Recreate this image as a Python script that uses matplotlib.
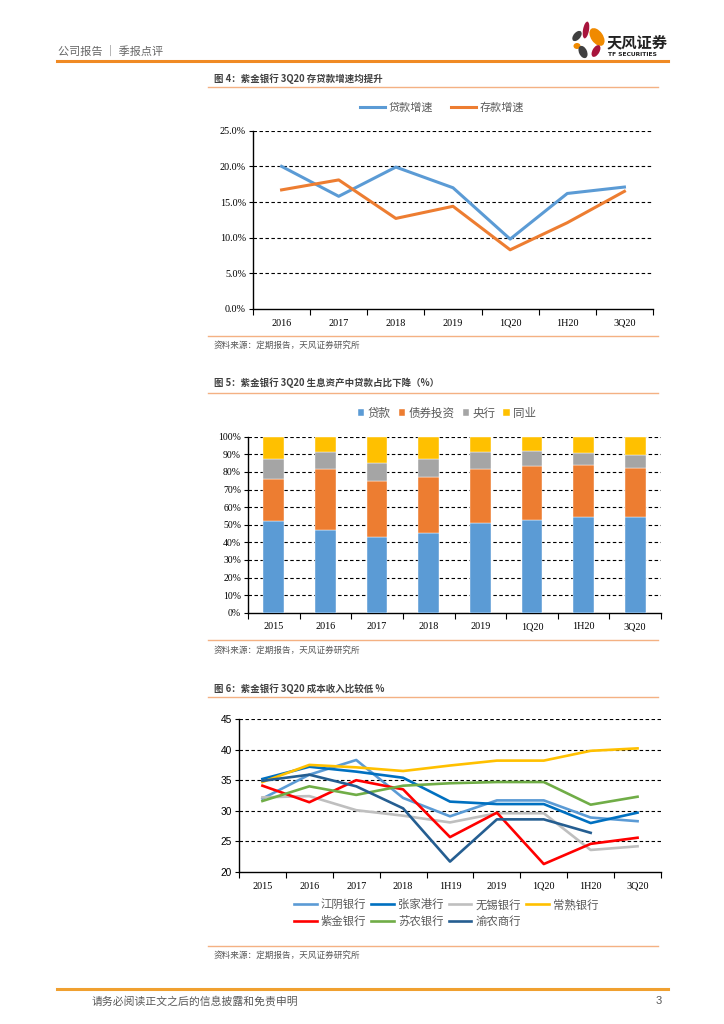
import matplotlib
matplotlib.use('Agg')
import matplotlib.pyplot as plt
from matplotlib.patches import Ellipse
from matplotlib.lines import Line2D
import numpy as np

plt.rcParams['font.family'] = ['Noto Sans CJK SC', 'DejaVu Sans']
plt.rcParams['lines.scale_dashes'] = False

# ---------------- data ----------------
c1_cats = ['2016', '2017', '2018', '2019', '1Q20', '1H20', '3Q20']
loan_growth = [20.0, 15.8, 19.9, 17.0, 9.8, 16.2, 17.1]
deposit_growth = [16.7, 18.1, 12.7, 14.4, 8.3, 12.1, 16.5]
c1_series = ['贷款增速', '存款增速']

c2_cats = ['2015', '2016', '2017', '2018', '2019', '1Q20', '1H20', '3Q20']
loans = [52.2, 47.2, 42.9, 45.2, 50.7, 52.4, 54.6, 54.1]
bonds = [23.7, 34.2, 31.9, 32.0, 30.7, 30.7, 29.3, 28.3]
central = [11.4, 9.9, 10.0, 10.1, 9.9, 8.7, 6.6, 7.2]
interbank = [12.7, 8.7, 15.2, 12.7, 8.7, 8.2, 9.5, 10.4]
c2_series = ['贷款', '债券投资', '央行', '同业']

c3_cats = ['2015', '2016', '2017', '2018', '1H19', '2019', '1Q20', '1H20', '3Q20']
jiangyin = [32.0, 35.9, 38.3, 32.1, 29.1, 31.7, 31.7, 28.9, 28.3]
zhangjiagang = [35.2, 37.2, 36.4, 35.4, 31.5, 31.1, 31.1, 28.0, 29.7]
wuxi = [32.2, 32.4, 30.1, 29.2, 28.1, 29.6, 29.6, 23.6, 24.2]
changshu = [34.7, 37.5, 37.1, 36.5, 37.4, 38.2, 38.2, 39.8, 40.2]
zijin = [34.1, 31.4, 35.0, 33.5, 25.7, 29.7, 21.3, 24.6, 25.6]
sunong = [31.6, 34.0, 32.6, 34.1, 34.5, 34.7, 34.7, 31.0, 32.3]
yunong = [34.9, 35.9, 34.0, 30.4, 21.7, 28.6, 28.6, 26.4, np.nan]
c3_names = ['江阴银行', '张家港行', '无锡银行', '常熟银行', '紫金银行', '苏农银行', '渝农商行']

# ---------------- helpers ----------------
W, H = 724, 1024
fig = plt.figure(figsize=(W / 100, H / 100), dpi=100)


def rect(x0, y0, x1, y1):
    return [x0 / W, 1 - y1 / H, (x1 - x0) / W, (y1 - y0) / H]


def fx(x):
    return x / W


def fy(y):
    return 1 - y / H


def hline(y, x0, x1, color, lw):
    fig.add_artist(Line2D([fx(x0), fx(x1)], [fy(y), fy(y)], color=color, lw=lw,
                          transform=fig.transFigure))


def ftext(x, y, s, **kw):
    kw.setdefault('va', 'center')
    fig.text(fx(x), fy(y), s, **kw)


GRAY = '#595959'
ORANGE_LINE = '#F4B183'
SERIF = 'Liberation Serif'
grid_kw = dict(color='black', lw=0.8, linestyle=(0, (2.5, 1.8)))


def cat_axis(ax, n, labels, fontfamily=SERIF, fs=7.3):
    ax.set_xlim(-0.5, n - 0.5)
    ax.set_xticks(np.arange(-0.5, n, 1.0))
    ax.set_xticklabels([])
    ax.set_xticks(np.arange(n), minor=True)
    ax.set_xticklabels(labels, minor=True, fontfamily=fontfamily, fontsize=fs, color='black')
    ax.tick_params(axis='x', which='major', length=4, width=0.8, direction='out')
    ax.tick_params(axis='x', which='minor', length=0, pad=7)
    for s in ['top', 'right']:
        ax.spines[s].set_visible(False)
    for s in ['left', 'bottom']:
        ax.spines[s].set_linewidth(1.0)
        ax.spines[s].set_color('black')
    ax.tick_params(axis='y', length=3, width=0.8, direction='out', pad=2)


# ---------------- page header ----------------
ftext(58, 51, '公司报告 ｜ 季报点评', fontsize=8, color='#666666')
hline(61, 57, 668, '#F08A24', 2.2)

# logo
axl = fig.add_axes(rect(565, 15, 610, 62))
axl.set_xlim(565, 610)
axl.set_ylim(62, 15)
axl.axis('off')
petals = [
    ((586, 30), 6, 17, 10, '#A8143C'),
    ((597, 37), 12, 20, -35, '#F08A00'),
    ((577, 36), 7, 12, 40, '#404040'),
    ((577, 46), 7, 6, 0, '#F08A00'),
    ((583, 52), 8, 13, -25, '#404040'),
    ((596, 51), 7, 13, 30, '#A8143C'),
]
for (cx, cy), w, h, ang, col in petals:
    axl.add_patch(Ellipse((cx, cy), w, h, angle=ang, color=col, lw=0))
ftext(607, 42, '天风证券', fontsize=11, fontweight='bold', color='#222222')
ftext(608, 54, 'TF SECURITIES', fontsize=4.3, fontweight='bold', color='#222222',
      fontfamily='DejaVu Sans')

# ---------------- figure 4 ----------------
ftext(214, 79, '图 4：紫金银行 3Q20 存贷款增速均提升', fontsize=6.8, fontweight='bold', color='#404040')
hline(87, 208, 658, ORANGE_LINE, 1.0)

ax1 = fig.add_axes(rect(253, 130.7, 653, 309))
x1 = np.arange(len(c1_cats))
l1, = ax1.plot(x1, loan_growth, color='#5B9BD5', lw=2.2, label=c1_series[0])
l2, = ax1.plot(x1, deposit_growth, color='#ED7D31', lw=2.2, label=c1_series[1])
ax1.set_ylim(0, 25)
ax1.set_yticks(np.arange(0, 26, 5))
ax1.set_yticklabels(['%.1f%%' % v for v in np.arange(0, 26, 5)], fontfamily=SERIF, fontsize=7.3)
for v in np.arange(5, 26, 5):
    ax1.axhline(v, **grid_kw, zorder=0)
cat_axis(ax1, len(c1_cats), c1_cats)
fig.legend(handles=[l1, l2], loc='center', bbox_to_anchor=(fx(442), fy(108)), ncol=2,
           frameon=False, fontsize=8, labelcolor=GRAY, handlelength=2.3,
           handletextpad=0.3, columnspacing=1.6)

hline(336, 208, 658, ORANGE_LINE, 1.0)
ftext(214, 345.5, '资料来源：定期报告，天风证券研究所', fontsize=6.2, color=GRAY)

# ---------------- figure 5 ----------------
ftext(214, 383, '图 5：紫金银行 3Q20 生息资产中贷款占比下降（%）', fontsize=6.8, fontweight='bold', color='#404040')
hline(393, 208, 658, ORANGE_LINE, 1.0)

ax2 = fig.add_axes(rect(248, 436.7, 661, 612.7))
x2 = np.arange(len(c2_cats))
bw = 0.4
cols2 = ['#5B9BD5', '#ED7D31', '#A5A5A5', '#FFC000']
bottom = np.zeros(len(c2_cats))
handles2 = []
for vals, col, name in zip([loans, bonds, central, interbank], cols2, c2_series):
    b = ax2.bar(x2, vals, bw, bottom=bottom, color=col, edgecolor='white', linewidth=0.3,
                label=name, zorder=3)
    bottom += np.array(vals)
    handles2.append(b)
ax2.set_ylim(0, 100)
ax2.set_yticks(np.arange(0, 101, 10))
ax2.set_yticklabels(['%d%%' % v for v in np.arange(0, 101, 10)], fontfamily=SERIF, fontsize=7.0)
for v in np.arange(10, 101, 10):
    ax2.axhline(v, **grid_kw, zorder=1)
cat_axis(ax2, len(c2_cats), c2_cats)
fig.legend(handles=handles2, loc='center', bbox_to_anchor=(fx(447), fy(413)), ncol=4,
           frameon=False, fontsize=8.3, labelcolor=GRAY, handlelength=0.55, handleheight=0.55,
           handletextpad=0.3, columnspacing=0.7)

hline(640, 208, 658, ORANGE_LINE, 1.0)
ftext(214, 650, '资料来源：定期报告，天风证券研究所', fontsize=6.2, color=GRAY)

# ---------------- figure 6 ----------------
ftext(214, 689, '图 6：紫金银行 3Q20 成本收入比较低 %', fontsize=6.8, fontweight='bold', color='#404040')
hline(697, 208, 658, ORANGE_LINE, 1.0)

ax3 = fig.add_axes(rect(239, 719, 661, 872))
x3 = np.arange(len(c3_cats))
cols3 = ['#5B9BD5', '#0070C0', '#BFBFBF', '#FFC000', '#FF0000', '#70AD47', '#255E91']
series3 = [jiangyin, zhangjiagang, wuxi, changshu, zijin, sunong, yunong]
lines3 = []
for vals, col, name in zip(series3, cols3, c3_names):
    ln, = ax3.plot(x3, vals, color=col, lw=1.9, label=name, zorder=3)
    lines3.append(ln)
ax3.set_ylim(20, 45)
ax3.set_yticks(np.arange(20, 46, 5))
ax3.set_yticklabels([str(v) for v in np.arange(20, 46, 5)], fontfamily='Liberation Sans', fontsize=7.3)
for v in np.arange(25, 46, 5):
    ax3.axhline(v, **grid_kw, zorder=1)
cat_axis(ax3, len(c3_cats), c3_cats)
order = [0, 4, 1, 5, 2, 6, 3]
fig.legend(handles=[lines3[i] for i in order], loc='center', bbox_to_anchor=(fx(446), fy(913)),
           ncol=4, frameon=False, fontsize=8.2, labelcolor=GRAY, handlelength=2.0,
           handletextpad=0.35, columnspacing=0.45, labelspacing=0.5)

hline(946, 208, 658, ORANGE_LINE, 1.0)
ftext(214, 955, '资料来源：定期报告，天风证券研究所', fontsize=6.2, color=GRAY)

# ---------------- footer ----------------
hline(989, 57, 668, '#F0A030', 2.2)
ftext(92, 1001, '请务必阅读正文之后的信息披露和免责申明', fontsize=7.8, color=GRAY)
ftext(662, 1001, '3', fontsize=8, color=GRAY, ha='right', fontfamily='Liberation Sans')

fig.savefig('out.png', dpi=100)
